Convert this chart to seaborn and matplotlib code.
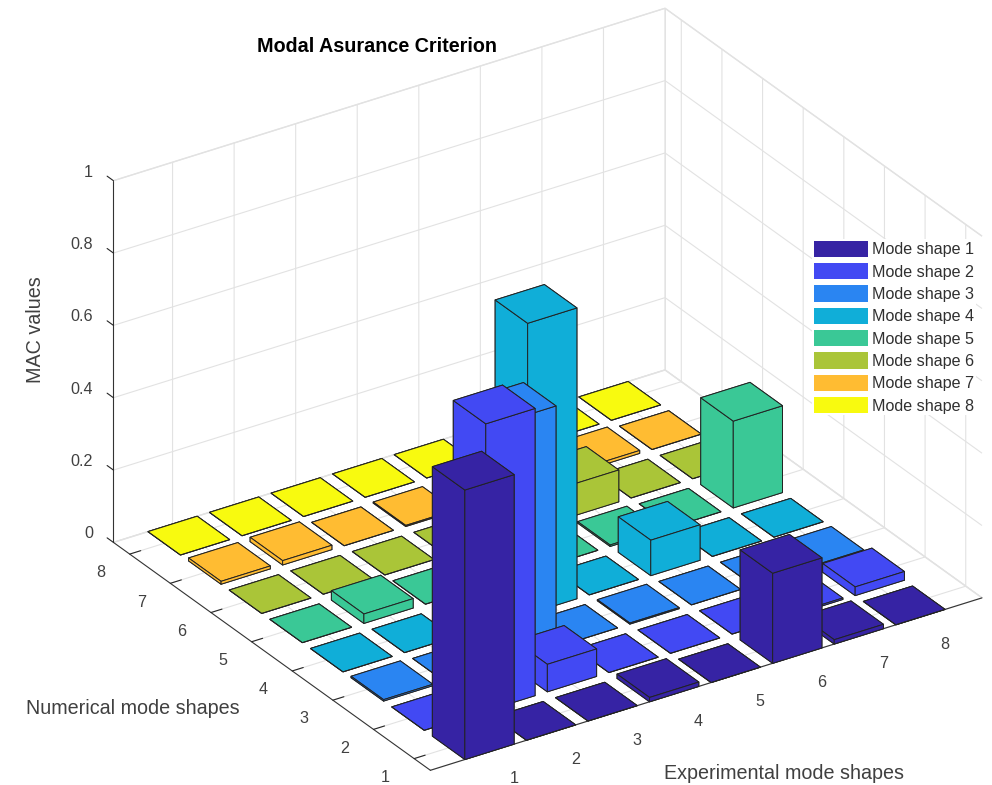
import numpy as np
import pandas as pd
import seaborn as sns
import matplotlib
matplotlib.use("Agg")
import matplotlib.pyplot as plt
from matplotlib.patches import Patch
from mpl_toolkits.mplot3d import proj3d

# MAC values, one list per numerical mode shape
mode_1 = [0.745, 0.0, 0.0, 0.012, 0.0, 0.249, 0.012, 0.0]
mode_2 = [0.0, 0.794, 0.076, 0.0, 0.0, 0.0, 0.004, 0.024]
mode_3 = [0.004, 0.0, 0.667, 0.0, 0.003, 0.0, 0.0, 0.003]
mode_4 = [0.0, 0.0, 0.0, 0.804, 0.0, 0.098, 0.0, 0.0]
mode_5 = [0.0, 0.026, 0.0, 0.0, 0.0, 0.004, 0.0, 0.24]
mode_6 = [0.0, 0.0, 0.0, 0.0, 0.0, 0.088, 0.0, 0.0]
mode_7 = [0.008, 0.012, 0.0, 0.003, 0.0, 0.0, 0.008, 0.0]
mode_8 = [0.0, 0.0, 0.0, 0.0, 0.0, 0.0, 0.0, 0.0]

colors = ["#3623A4", "#4249F3", "#2A85F2", "#10AED8",
          "#3AC896", "#AAC538", "#FFBC32", "#F8FA0F"]
ticks = [1, 2, 3, 4, 5, 6, 7, 8]
z_ticks = [0, 0.2, 0.4, 0.6, 0.8, 1]
z_labels = ["0", "0.2", "0.4", "0.6", "0.8", "1"]
legend_labels = [f"Mode shape {i}" for i in ticks]

df = pd.DataFrame([mode_1, mode_2, mode_3, mode_4, mode_5, mode_6, mode_7, mode_8],
                  index=ticks, columns=ticks)
df = df.reset_index(names="numerical").melt(id_vars="numerical", var_name="experimental", value_name="mac")

sns.set_theme(style="white")
plt.rcParams['font.family'] = ['Liberation Sans', 'DejaVu Sans']
palette = sns.color_palette(colors)

fig = plt.figure(figsize=(9.92, 7.85), dpi=100)
# oversized square axes, the box is scaled down with zoom so nothing gets clipped
side = 1200
ax = fig.add_axes([(531.5 - side / 2) / 992, (379.5 - side / 2) / 785, side / 992, side / 785],
                  projection='3d', computed_zorder=False)
ax.patch.set_alpha(0)
ax.set_proj_type('ortho')
ax.view_init(elev=28.3, azim=-123.4)

# back to front so near bars cover the far ones
df = df.sort_values(["experimental", "numerical"], ascending=False).reset_index(drop=True)
width = 0.8
for i, row in df.iterrows():
    ax.bar3d(row.experimental - width / 2, row.numerical - width / 2, 0, width, width, row.mac,
             color=palette[int(row.numerical) - 1], edgecolor="#222222", linewidth=0.7,
             shade=False, zorder=i + 10)

x_min, x_max = 0.04, 9
y_min, y_max = 0.6, 8.4
ax.set_xlim(x_min, x_max, view_margin=0)
ax.set_ylim(y_min, y_max, view_margin=0)
ax.set_zlim(0, 1, view_margin=0)
ax.set_box_aspect((661, 576, 411), zoom=0.783)

ax.set_xticks(ticks)
ax.set_yticks(ticks)
ax.set_zticks(z_ticks)
ax.tick_params(axis='both', labelbottom=False, labelleft=False, label1On=False, label2On=False)

for axis in (ax.xaxis, ax.yaxis, ax.zaxis):
    axis.set_pane_color((1, 1, 1, 1))
    axis.pane.set_edgecolor("#E2E2E2")
    axis.line.set_color("#333333")
    axis.line.set_linewidth(0.8)
    axis._axinfo['grid'].update(color="#E2E2E2", linewidth=0.8)
    axis._axinfo['tick'].update(inward_factor=0.0, outward_factor=0.25, linewidth={True: 0.8, False: 0.8})

# z ticks point along +y in the original
ax.zaxis._get_tickdir = lambda pos: 1


def tick_text(x, y, z, label, ha):
    # tick labels placed by hand, mplot3d has no per axis label offset
    px, py, _ = proj3d.proj_transform(x, y, z, ax.get_proj())
    ax.text2D(px, py, label, transform=ax.transData, ha=ha, va='center',
              fontsize=11.6, color="#404040", zorder=200)


for t in ticks:
    tick_text(t, y_min - 0.6, -0.026, str(t), 'center')
    tick_text(x_min - 0.47, t, -0.027, str(t), 'center')
for z, lab in zip(z_ticks, z_labels):
    tick_text(x_min, y_max + 0.5, z - 0.017, lab, 'right')

fig.text(0.38, 0.941, "Modal Asurance Criterion", ha='center', va='center',
         fontsize=14.2, fontweight='bold', color="black")
fig.text(0.036, 0.58, "MAC values", rotation=90, ha='center', va='center',
         fontsize=14.2, color="#404040")
fig.text(0.134, 0.098, "Numerical mode shapes", ha='center', va='center',
         fontsize=14.2, color="#404040")
fig.text(0.79, 0.015, "Experimental mode shapes", ha='center', va='center',
         fontsize=14.2, color="#404040")

handles = [Patch(facecolor=c, edgecolor="none", label=l) for c, l in zip(palette, legend_labels)]
fig.legend(handles=handles, loc='upper left', bbox_to_anchor=(812 / 992, 1 - 239 / 785),
           frameon=True, facecolor="white", edgecolor="none", framealpha=1, fancybox=False,
           fontsize=11.6, labelcolor="#303030", handlelength=3.4, handleheight=1.2,
           handletextpad=0.25, labelspacing=0.35, borderpad=0.1, borderaxespad=0)

fig.savefig("out.png", dpi=100)
